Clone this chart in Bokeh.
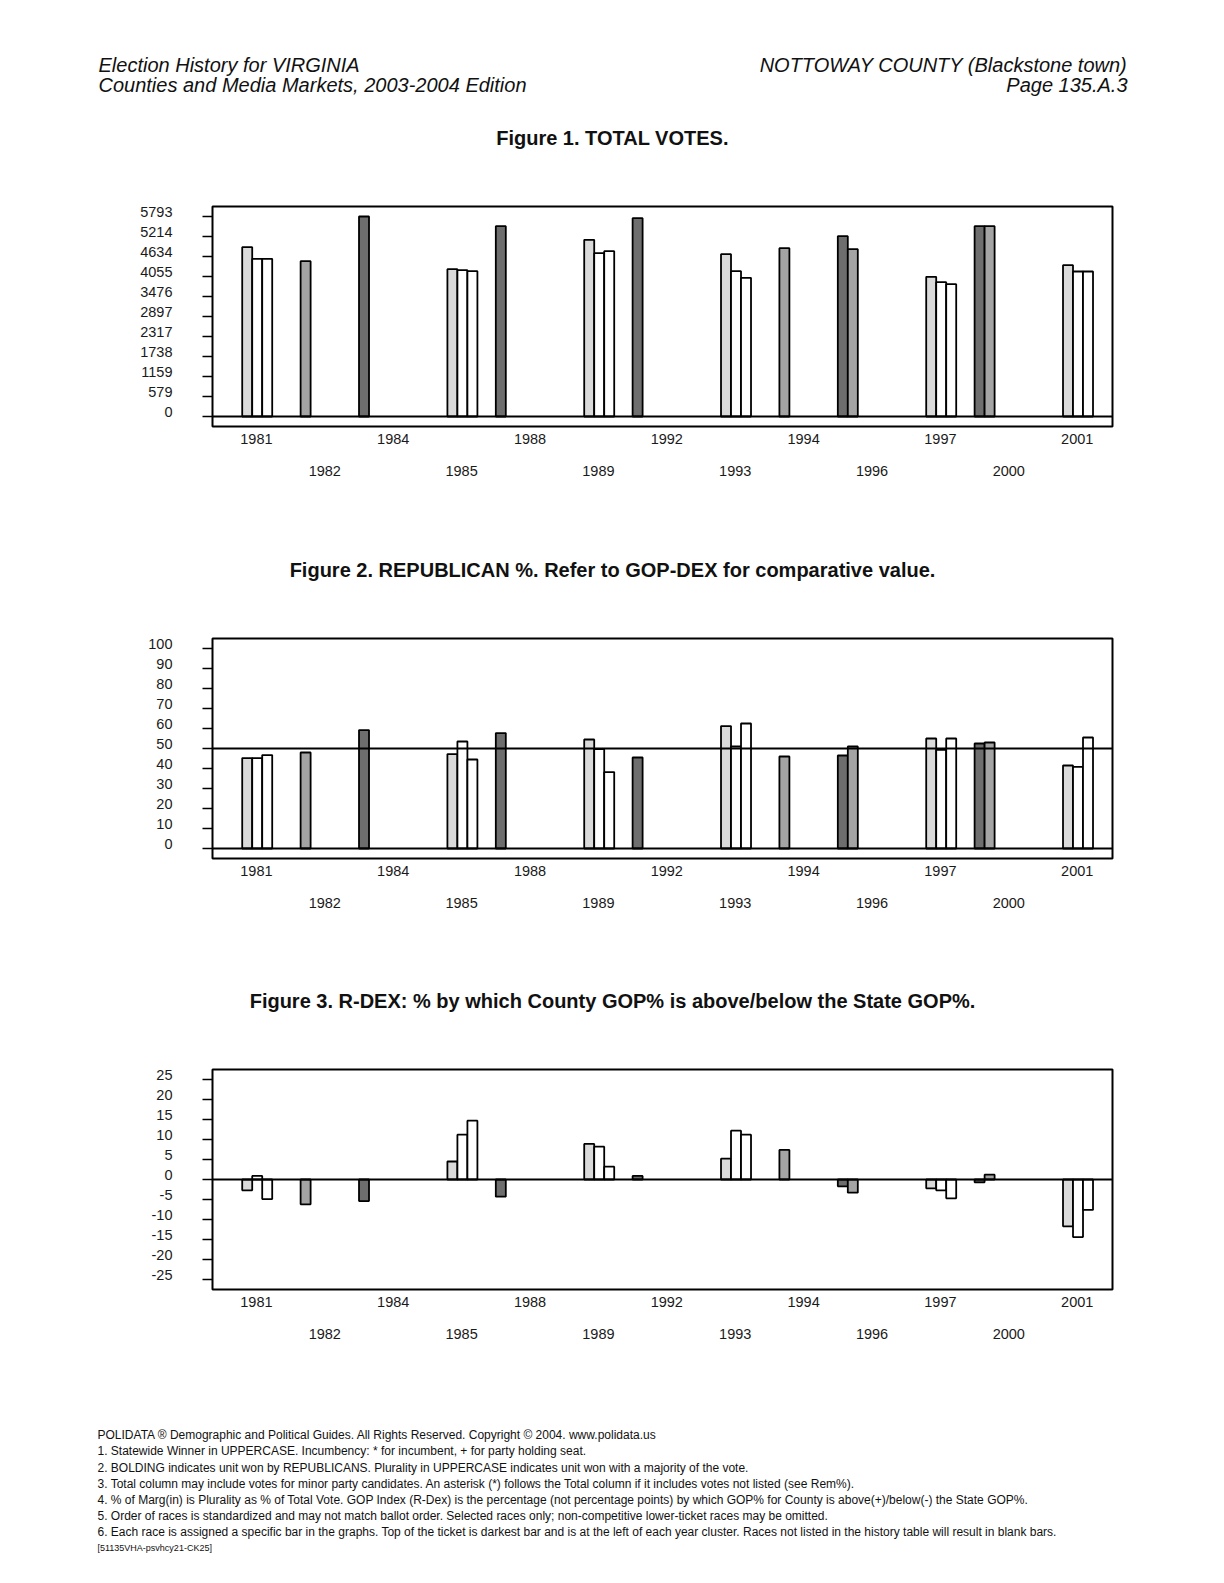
import math
from bokeh.plotting import figure
from bokeh.models import (Range1d, LinearAxis, FixedTicker, CustomJSTickFormatter, Span,
                          ColumnDataSource)
from bokeh.embed import file_html
from bokeh.resources import INLINE
from bokeh.core.properties import value

nan = float("nan")

# ---------------- data ----------------
years = ["1981", "1982", "1984", "1985", "1988", "1989", "1992",
         "1993", "1994", "1996", "1997", "2000", "2001"]

# Figure 1: total votes (bar order in each cluster: pres, senate, gov, lg, ag)
votes_pres   = [nan, nan, 5793, nan, 5513, nan, 5745, nan, nan, 5223, nan, 5513, nan]
votes_senate = [nan, 4499, nan, nan, nan, nan, nan, nan, 4876, 4847, nan, 5513, nan]
votes_gov    = [4904, nan, nan, 4267, nan, 5117, nan, 4702, nan, nan, 4045, nan, 4383]
votes_lg     = [4567, nan, nan, 4238, nan, 4731, nan, 4209, nan, nan, 3891, nan, 4200]
votes_ag     = [4567, nan, nan, 4209, nan, 4789, nan, 4016, nan, nan, 3833, nan, 4200]
votes_ticks  = [0, 579.3, 1158.6, 1737.9, 2317.2, 2896.5, 3475.8, 4055.1, 4634.4, 5213.7, 5793]
votes_labels = ["0", "579", "1159", "1738", "2317", "2897", "3476", "4055", "4634", "5214", "5793"]

# Figure 2: Republican %
gop_pres   = [nan, nan, 59.2, nan, 57.7, nan, 45.5, nan, nan, 46.5, nan, 52.5, nan]
gop_senate = [nan, 48.0, nan, nan, nan, nan, nan, nan, 46.0, 51.0, nan, 53.0, nan]
gop_gov    = [45.2, nan, nan, 47.2, nan, 54.5, nan, 61.2, nan, nan, 55.0, nan, 41.5]
gop_lg     = [45.2, nan, nan, 53.5, nan, 49.7, nan, 51.0, nan, nan, 49.3, nan, 40.8]
gop_ag     = [46.7, nan, nan, 44.5, nan, 38.2, nan, 62.5, nan, nan, 55.0, nan, 55.5]
gop_ticks  = [0, 10, 20, 30, 40, 50, 60, 70, 80, 90, 100]
gop_labels = ["0", "10", "20", "30", "40", "50", "60", "70", "80", "90", "100"]

# Figure 3: R-DEX
rdex_pres   = [nan, nan, -5.4, nan, -4.3, nan, 0.9, nan, nan, -1.7, nan, -0.7, nan]
rdex_senate = [nan, -6.2, nan, nan, nan, nan, nan, nan, 7.4, -3.3, nan, 1.2, nan]
rdex_gov    = [-2.7, nan, nan, 4.5, nan, 8.9, nan, 5.2, nan, nan, -2.2, nan, -11.7]
rdex_lg     = [0.9, nan, nan, 11.2, nan, 8.2, nan, 12.2, nan, nan, -2.7, nan, -14.4]
rdex_ag     = [-4.9, nan, nan, 14.7, nan, 3.2, nan, 11.2, nan, nan, -4.7, nan, -7.6]
rdex_ticks  = [-25, -20, -15, -10, -5, 0, 5, 10, 15, 20, 25]
rdex_labels = ["-25", "-20", "-15", "-10", "-5", "0", "5", "10", "15", "20", "25"]

header_left = ["Election History for VIRGINIA", "Counties and Media Markets, 2003-2004 Edition"]
header_right = ["NOTTOWAY COUNTY (Blackstone town)", "Page 135.A.3"]
titles = ["Figure 1. TOTAL VOTES.",
          "Figure 2. REPUBLICAN %. Refer to GOP-DEX for comparative value.",
          "Figure 3. R-DEX: % by which County GOP% is above/below the State GOP%."]
footer = [
    "POLIDATA \u00ae Demographic and Political Guides. All Rights Reserved. Copyright \u00a9 2004. www.polidata.us",
    "1. Statewide Winner in UPPERCASE. Incumbency: * for incumbent, + for party holding seat.",
    "2. BOLDING indicates unit won by REPUBLICANS. Plurality in UPPERCASE indicates unit won with a majority of the vote.",
    "3. Total column may include votes for minor party candidates. An asterisk (*) follows the Total column if it includes votes not listed (see Rem%).",
    "4. % of Marg(in) is Plurality as % of Total Vote. GOP Index (R-Dex) is the percentage (not percentage points) by which GOP% for County is above(+)/below(-) the State GOP%.",
    "5. Order of races is standardized and may not match ballot order. Selected races only; non-competitive lower-ticket races may be omitted.",
    "6. Each race is assigned a specific bar in the graphs. Top of the ticket is darkest bar and is at the left of each year cluster. Races not listed in the history table will result in blank bars.",
]
footer_code = "[51135VHA-psvhcy21-CK25]"

bar_colors = ["#6e6e6e", "#a4a4a4", "#dadada", "#ffffff", "#ffffff"]

# ---------------- layout constants ----------------
W = 1224
FL, FR = 212, 1112        # frame left / right on the page
FONT = "Liberation Sans"
SLOT = 10 / 68.4          # width of one bar in cluster units
XR = (-0.142, 13.016)


def text_fig(h, items):
    # whole figure is the frame: x and y in page-like pixels
    p = figure(width=W, height=h, x_range=Range1d(0, W), y_range=Range1d(h, 0),
               min_border=0, toolbar_location=None, output_backend="svg",
               x_axis_location=None, y_axis_location=None)
    p.outline_line_color = None
    p.grid.grid_line_color = None
    for (x, y, t, align, size, style) in items:
        p.text(x=[x], y=[y], text=[t], text_align=align, text_baseline="middle",
               text_font=value(FONT), text_font_size=size, text_font_style=style,
               text_color="#111111")
    return p


def chart(series, ymin, ymax, tvals, tlabels, refs):
    p = figure(width=W, height=320, x_range=Range1d(*XR), y_range=Range1d(ymin, ymax),
               min_border_left=FL, min_border_right=W - FR, min_border_top=27,
               min_border_bottom=73, toolbar_location=None, output_backend="svg",
               x_axis_location=None, y_axis_location=None)
    p.grid.grid_line_color = None
    p.outline_line_color = "black"
    p.outline_line_width = 2
    px = (ymax - ymin) / 220.0

    for ref in refs:
        p.add_layout(Span(location=ref, dimension="width", line_color="black", line_width=2))

    for k, vals in enumerate(series):
        xs, tops = [], []
        for i, v in enumerate(vals):
            if not math.isnan(v):
                xs.append(i + SLOT * k + SLOT / 2)
                tops.append(v)
        src = ColumnDataSource(dict(x=xs, top=tops))
        p.vbar(x="x", top="top", bottom=0, width=SLOT, source=src,
               fill_color=bar_colors[k], line_color="black", line_width=1.8)

    ytick = LinearAxis(ticker=FixedTicker(ticks=tvals, minor_ticks=[]),
                       formatter=CustomJSTickFormatter(code="return ''"),
                       major_tick_out=10, major_tick_in=0, major_tick_line_width=1.5,
                       major_label_standoff=0, axis_line_color=None,
                       minor_tick_line_color=None)
    p.add_layout(ytick, "left")
    shifted = [v + 5 * px for v in tvals]
    ylab = LinearAxis(ticker=FixedTicker(ticks=shifted, minor_ticks=[]),
                      formatter=CustomJSTickFormatter(args=dict(labels=tlabels, pos=shifted),
                          code="""let b=0, d=1e99; for (let i=0;i<pos.length;i++){const e=Math.abs(pos[i]-tick); if(e<d){d=e;b=i}} return labels[b];"""),
                      major_tick_line_color=None, major_tick_out=0, major_tick_in=0,
                      axis_line_color=None, minor_tick_line_color=None,
                      major_label_standoff=30,
                      major_label_text_font=FONT, major_label_text_font_size="14.5px",
                      major_label_text_color="#1a1a1a")
    p.add_layout(ylab, "left")

    for parity, standoff in ((0, 7), (1, 19)):
        idx = [i for i in range(len(years)) if i % 2 == parity]
        ax = LinearAxis(ticker=FixedTicker(ticks=[i + 0.5 for i in idx], minor_ticks=[]),
                        formatter=CustomJSTickFormatter(args=dict(labels=years),
                                                        code="return labels[Math.round(tick - 0.5)];"),
                        major_tick_line_color=None, major_tick_out=0, major_tick_in=0,
                        axis_line_color=None, minor_tick_line_color=None,
                        major_label_standoff=standoff,
                        major_label_text_font=FONT, major_label_text_font_size="14.5px",
                        major_label_text_color="#1a1a1a")
        p.add_layout(ax, "below")
    return p


head = text_fig(179, [
    (98, 64.6, header_left[0], "left", "20px", "italic"),
    (98, 84.8, header_left[1], "left", "20px", "italic"),
    (1127, 64.6, header_right[0], "right", "20px", "italic"),
    (1127, 84.8, header_right[1], "right", "20px", "italic"),
    (612, 137.3, titles[0], "center", "20px", "bold"),
])

c1 = chart([votes_pres, votes_senate, votes_gov, votes_lg, votes_ag],
           -5793 / 20, 5793 * 21 / 20, votes_ticks, votes_labels, [0])
t2 = text_fig(112, [(612, 70.5, titles[1], "center", "20px", "bold")])
c2 = chart([gop_pres, gop_senate, gop_gov, gop_lg, gop_ag],
           -5, 105, gop_ticks, gop_labels, [0, 50])
t3 = text_fig(111, [(612, 69.5, titles[2], "center", "20px", "bold")])
c3 = chart([rdex_pres, rdex_senate, rdex_gov, rdex_lg, rdex_ag],
           -27.5, 27.5, rdex_ticks, rdex_labels, [0])

foot_items = [(97, 72.7 + 16.15 * k, line, "left", "12px", "normal") for k, line in enumerate(footer)]
foot_items.append((97, 72.7 + 16.15 * len(footer), footer_code, "left", "9px", "normal"))
foot = text_fig(212, foot_items)

# separate roots, stacked by the page itself (no frame alignment between them)
open("out.html", "w").write(file_html([head, c1, t2, c2, t3, c3, foot], INLINE))
